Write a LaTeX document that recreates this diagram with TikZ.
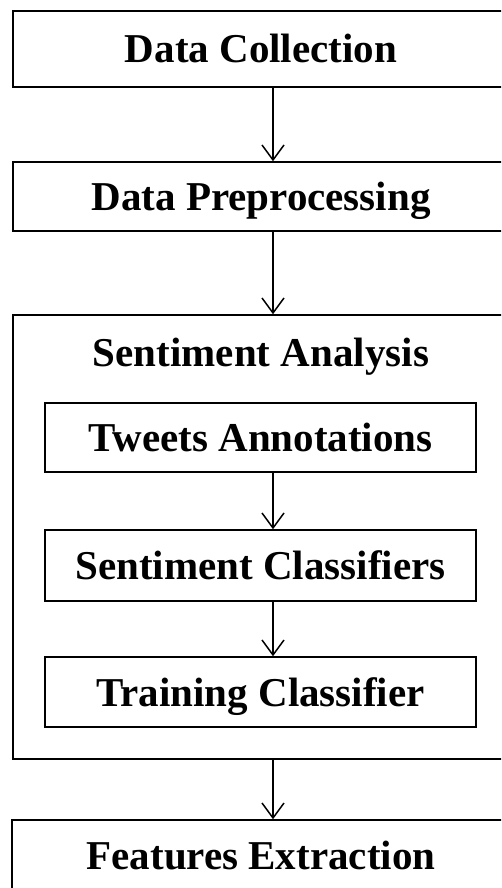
\documentclass[tikz,border=0pt]{standalone}
\usepackage{fontspec}
\setmainfont{Liberation Serif}
\usetikzlibrary{arrows.meta}

\begin{document}
\begin{tikzpicture}[x=1pt,y=-1pt,>={Straight Barb[length=15pt,width=22pt]},
  font=\fontsize{41}{49}\selectfont\bfseries,line width=1.5pt,
  box/.style={draw,inner sep=0pt,text height=28pt,text depth=0pt},
  outer/.style={box,minimum width=496pt},
  inner/.style={box,minimum width=431pt}]
\useasboundingbox (0,0) rectangle (501,888);
\clip (0,0) rectangle (501,888);
\coordinate (ax) at (273,0);
\node[outer,minimum height=76pt] (dc) at (261,49) {Data Collection};
\node[outer,minimum height=69pt] (dp) at (261,196.5) {Data Preprocessing};
\node[outer,minimum height=444pt] (sa) at (261,537) {};
\node[inner sep=0pt,text height=28pt,text depth=0pt] (sat) at (261,352) {Sentiment Analysis};
\node[inner,minimum height=69pt] (ta) at (260.5,437.5) {Tweets Annotations};
\node[inner,minimum height=71pt] (sc) at (260.5,565.5) {Sentiment Classifiers};
\node[inner,minimum height=70pt] (tc) at (260.5,692) {Training Classifier};
\node[outer,minimum height=70pt,minimum width=498pt] (fe) at (261,855) {Features Extraction};
\draw[->] (dc.south -| ax) -- (dp.north -| ax);
\draw[->] (dp.south -| ax) -- (sa.north -| ax);
\draw[->] (ta.south -| ax) -- (sc.north -| ax);
\draw[->] (sc.south -| ax) -- (tc.north -| ax);
\draw[->] (sa.south -| ax) -- (fe.north -| ax);
\end{tikzpicture}
\end{document}
